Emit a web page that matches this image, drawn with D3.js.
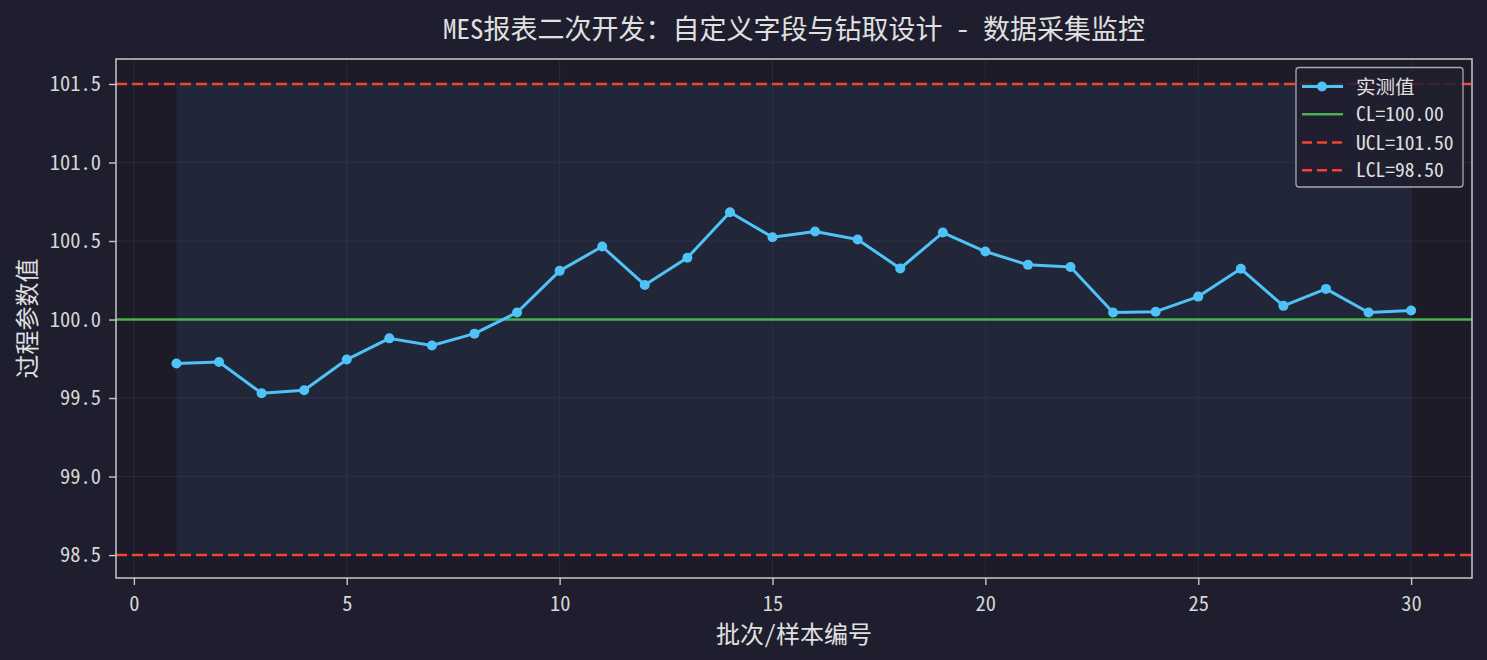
<!DOCTYPE html>
<html><head><meta charset="utf-8">
<script src="https://cdn.jsdelivr.net/npm/d3@7"></script>
<style>
html,body{margin:0;padding:0;background:#1e1e2e;}
svg{display:block;}
svg text{font-family:"Noto Sans Mono CJK SC","DejaVu Sans Mono","Noto Sans CJK SC",monospace;}
</style></head><body>
<svg id="c" width="1487" height="660"></svg>
<script>
const batches = d3.range(1, 31);
const values = [99.72, 99.73, 99.53, 99.55, 99.745, 99.88, 99.835, 99.91, 100.045, 100.31,
                100.465, 100.22, 100.393, 100.683, 100.524, 100.56, 100.51, 100.325, 100.554, 100.433,
                100.348, 100.335, 100.045, 100.05, 100.146, 100.323, 100.087, 100.195, 100.045, 100.057];
const CL = 100.0, UCL = 101.5, LCL = 98.5;
const xTicks = [0, 5, 10, 15, 20, 25, 30];
const yTicks = [98.5, 99.0, 99.5, 100.0, 100.5, 101.0, 101.5];
const legendLabels = ["实测值", "CL=100.00", "UCL=101.50", "LCL=98.50"];
const titleText = "MES报表二次开发：自定义字段与钻取设计 - 数据采集监控";
const xLabel = "批次/样本编号", yLabel = "过程参数值";

const L = 116, R = 1472, T = 59, B = 578;
const x = d3.scaleLinear().domain([-0.42, 31.43]).range([L, R]);
const y = d3.scaleLinear().domain([98.354, 101.659]).range([B, T]);
const svg = d3.select("#c");

svg.append("rect").attr("width", 1487).attr("height", 660).attr("fill", "#1e1e2e");
svg.append("rect").attr("x", L).attr("y", T).attr("width", R - L).attr("height", B - T).attr("fill", "#1c1b27");
// shaded control band
svg.append("rect").attr("x", x(1)).attr("y", y(UCL)).attr("width", x(30) - x(1)).attr("height", y(LCL) - y(UCL))
  .attr("fill", "#222639");

// grid
const grid = svg.append("g").attr("stroke", "#3a3d52").attr("stroke-opacity", 0.45).attr("stroke-width", 1);
xTicks.forEach(t => grid.append("line").attr("x1", x(t)).attr("x2", x(t)).attr("y1", T).attr("y2", B));
yTicks.forEach(t => grid.append("line").attr("x1", L).attr("x2", R).attr("y1", y(t)).attr("y2", y(t)));

// control lines
svg.append("line").attr("x1", L).attr("x2", R).attr("y1", y(CL)).attr("y2", y(CL)).attr("stroke", "#4caf50").attr("stroke-width", 2.6);
[UCL, LCL].forEach(v => svg.append("line").attr("x1", L).attr("x2", R).attr("y1", y(v)).attr("y2", y(v))
  .attr("stroke", "#f44336").attr("stroke-width", 2.6).attr("stroke-dasharray", "11,5"));

// data line
const pts = batches.map((b, i) => [b, values[i]]);
svg.append("path").datum(pts).attr("fill", "none").attr("stroke", "#4fc3f7").attr("stroke-width", 3)
  .attr("stroke-linejoin", "round").attr("d", d3.line().x(d => x(d[0])).y(d => y(d[1])));
svg.append("g").selectAll("circle").data(pts).join("circle")
  .attr("cx", d => x(d[0])).attr("cy", d => y(d[1])).attr("r", 5).attr("fill", "#4fc3f7");

// axes
const xa = svg.append("g").attr("transform", `translate(0,${B})`)
  .call(d3.axisBottom(x).tickValues(xTicks).tickSize(7).tickPadding(11).tickFormat(d3.format("d")));
const ya = svg.append("g").attr("transform", `translate(${L},0)`)
  .call(d3.axisLeft(y).tickValues(yTicks).tickSize(7).tickPadding(8).tickFormat(d3.format(".1f")));
[xa, ya].forEach(a => {
  a.attr("font-family", null).attr("font-size", null);
  a.select(".domain").remove();
  a.selectAll("line").attr("stroke", "#c8c8c8").attr("stroke-width", 1.4);
  a.selectAll("text").attr("fill", "#d6d6d6").attr("font-size", 20.5);
});
svg.append("rect").attr("x", L).attr("y", T).attr("width", R - L).attr("height", B - T)
  .attr("fill", "none").attr("stroke", "#c8c8c8").attr("stroke-width", 1.5);

// labels
svg.append("text").attr("x", (L + R) / 2).attr("y", 39).attr("text-anchor", "middle").attr("fill", "#e0e0e0")
  .attr("font-size", 27).text(titleText);
svg.append("text").attr("x", (L + R) / 2).attr("y", 643).attr("text-anchor", "middle").attr("fill", "#e0e0e0")
  .attr("font-size", 24).text(xLabel);
svg.append("text").attr("transform", `translate(36,${(T + B) / 2}) rotate(-90)`).attr("text-anchor", "middle")
  .attr("fill", "#e0e0e0").attr("font-size", 24).text(yLabel);

// legend
const lg = svg.append("g");
lg.append("rect").attr("x", 1296).attr("y", 67.5).attr("width", 167).attr("height", 119.5).attr("rx", 3)
  .attr("fill", "#1e1e2e").attr("fill-opacity", 0.85).attr("stroke", "#a8a8b0").attr("stroke-width", 1.3);
const rows = [86.5, 114.3, 142.5, 170.3];
const styles = [
  {c: "#4fc3f7", d: null, m: true, w: 3},
  {c: "#4caf50", d: null, m: false, w: 2.6},
  {c: "#f44336", d: "10,5", m: false, w: 2.6},
  {c: "#f44336", d: "10,5", m: false, w: 2.6}
];
legendLabels.forEach((lab, i) => {
  const s = styles[i], yy = rows[i];
  lg.append("line").attr("x1", 1302).attr("x2", 1343).attr("y1", yy).attr("y2", yy)
    .attr("stroke", s.c).attr("stroke-width", s.w).attr("stroke-dasharray", s.d);
  if (s.m) lg.append("circle").attr("cx", 1322).attr("cy", yy).attr("r", 5).attr("fill", s.c);
  lg.append("text").attr("x", 1356).attr("y", yy).attr("dy", "0.36em").attr("fill", "#e0e0e0").attr("font-size", 19.5).text(lab);
});
</script></body></html>
